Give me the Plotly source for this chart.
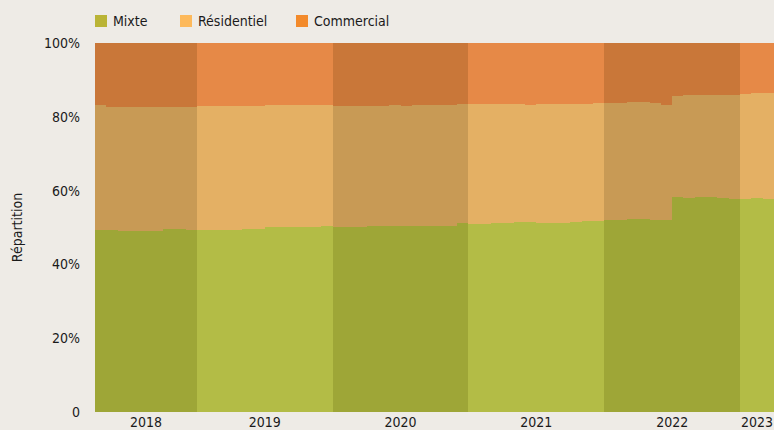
import plotly.graph_objects as go

# Monthly data, April 2018 -> March 2023 (share in %)
months = [f"{y}-{m:02d}" for y in range(2018, 2024) for m in range(1, 13)]
months = months[3:63]

mixte = [
    49.4, 49.4, 49.05, 49.05, 49.05, 49.05, 49.6, 49.6, 49.4,               # 2018 Apr-Dec
    49.4, 49.4, 49.4, 49.4, 49.6, 49.6, 50.1, 50.1, 50.1, 50.1, 50.1, 50.4,  # 2019
    50.1, 50.1, 50.1, 50.4, 50.4, 50.4, 50.4, 50.4, 50.4, 50.4, 50.4, 51.2,  # 2020
    51.0, 51.0, 51.2, 51.2, 51.5, 51.5, 51.2, 51.2, 51.2, 51.5, 51.8, 51.8,  # 2021
    52.0, 52.0, 52.3, 52.3, 52.0, 52.0, 58.3, 58.0, 58.3, 58.3, 58.0, 57.7,  # 2022
    57.7, 58.0, 57.7,                                                         # 2023 Jan-Mar
]
# cumulative Mixte + Résidentiel (upper boundary of Résidentiel)
mixte_resid = [
    83.2, 82.7, 82.7, 82.7, 82.7, 82.7, 82.7, 82.7, 82.7,
    83.0, 83.0, 83.0, 83.0, 83.0, 83.0, 83.2, 83.2, 83.2, 83.2, 83.2, 83.2,
    83.0, 83.0, 83.0, 82.9, 82.9, 83.2, 82.9, 83.1, 83.1, 83.1, 83.1, 83.5,
    83.5, 83.5, 83.5, 83.5, 83.5, 83.2, 83.5, 83.5, 83.5, 83.5, 83.5, 83.7,
    83.7, 83.7, 84.0, 84.0, 83.7, 83.2, 85.6, 85.9, 85.9, 85.9, 85.9, 85.9,
    86.2, 86.4, 86.4,
]
residentiel = [round(c - m, 2) for c, m in zip(mixte_resid, mixte)]
commercial = [round(100 - c, 2) for c in mixte_resid]

years = ["2018", "2019", "2020", "2021", "2022", "2023"]
series_names = ["Mixte", "Résidentiel", "Commercial"]
legend_colors = ["#bab436", "#fdb95b", "#f38a2b"]
light_colors = ["#b3bc46", "#e4b064", "#e68947"]
dark_colors = ["#9ea637", "#c89a55", "#c97739"]

idx = list(range(len(months)))
year_of = [int(m[:4]) for m in months]

fig = go.Figure()
for name, vals, lc, dc in zip(series_names, [mixte, residentiel, commercial], light_colors, dark_colors):
    cols = [dc if y % 2 == 0 else lc for y in year_of]
    fig.add_trace(go.Bar(x=idx, y=vals, name=name, marker=dict(color=cols, line=dict(width=0)),
                         showlegend=False, hovertext=months))

# tick positions: centre of each year's visible span
tickpos = []
for y in years:
    ii = [i for i, yy in enumerate(year_of) if str(yy) == y]
    tickpos.append((ii[0] - 0.5 + ii[-1] + 0.5) / 2)

font = "DejaVu Sans Condensed, Liberation Sans Narrow, sans-serif"
bg = "#eeebe6"

# custom legend (plot area: 679 px wide, 369 px tall)
PW, PH = 679.0, 369.0
leg_x = [0, 85, 201]          # pixel offsets of legend squares from plot left
for name, c, dx in zip(series_names, legend_colors, leg_x):
    fig.add_shape(type="rect", xref="paper", yref="paper",
                  x0=dx / PW, x1=(dx + 12) / PW, y0=1 + 16 / PH, y1=1 + 28 / PH,
                  fillcolor=c, line=dict(width=0))
    fig.add_annotation(xref="paper", yref="paper", x=(dx + 16) / PW, y=1 + 22 / PH,
                       xanchor="left", yanchor="middle", text=name, showarrow=False,
                       font=dict(size=14, family=font, color="#1a1a1a"))

fig.update_layout(
    width=774, height=430,
    margin=dict(l=95, r=0, t=43, b=18, autoexpand=False),
    paper_bgcolor=bg, plot_bgcolor=bg,
    barmode="stack", bargap=0, showlegend=False,
    font=dict(family=font, size=14, color="#1a1a1a"),
    xaxis=dict(range=[-0.5, len(months) - 0.5], tickvals=tickpos, ticktext=years,
               showgrid=False, zeroline=False, showline=False, ticks="", ticklabelstandoff=0,
               automargin=False),
    yaxis=dict(range=[0, 100], tickvals=[0, 20, 40, 60, 80, 100],
               ticktext=["0", "20%", "40%", "60%", "80%", "100%"],
               showgrid=False, zeroline=False, showline=False, ticks="", ticklabelstandoff=14,
               automargin=False,
               title=dict(text="Répartition", standoff=18, font=dict(size=14))),
)
fig.write_html("out.html", config={"displayModeBar": False},
               post_script="document.body.style.margin='0';document.body.style.overflow='hidden';")
